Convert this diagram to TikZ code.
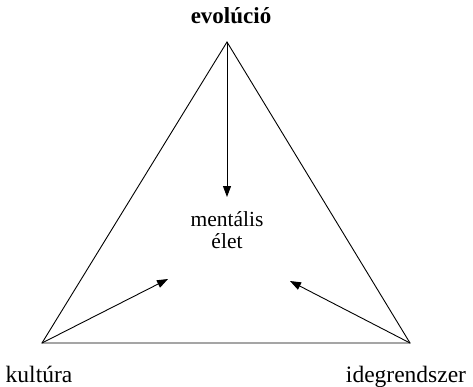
\documentclass[tikz,border=0pt]{standalone}
\usepackage{fontspec}
\setmainfont{Liberation Serif}
\usetikzlibrary{arrows.meta}
\begin{document}
\begin{tikzpicture}[x=1pt,y=-1pt,
  lbl/.style={inner sep=0pt,font=\fontsize{23.5}{26}\selectfont},
  edge/.style={line width=0.9pt},
  arr/.style={line width=0.9pt,-{Triangle[length=11pt,width=8pt]}}]
\useasboundingbox (0,0) rectangle (473,386);
\coordinate (T) at (227,42);
\coordinate (L) at (42,343);
\coordinate (R) at (410,343);
\coordinate (TA) at (227,197);
\coordinate (LA) at (168,279);
\coordinate (RA) at (290,281);
\draw[edge] (T) -- (L) -- (R) -- cycle;
\draw[arr] (T) -- (TA);
\draw[arr] (L) -- (LA);
\draw[arr] (R) -- (RA);
\node[lbl,font=\fontsize{23}{26}\selectfont\bfseries] (evo) at (231,16) {evolúció};
\node[lbl,anchor=base] (kul) at (39,382) {kultúra};
\node[lbl,anchor=base] (ide) at (406,382) {idegrendszer};
\node[lbl,align=center,font=\fontsize{21.5}{22}\selectfont] (men) at (227,230) {mentális\\élet};
\end{tikzpicture}
\end{document}
